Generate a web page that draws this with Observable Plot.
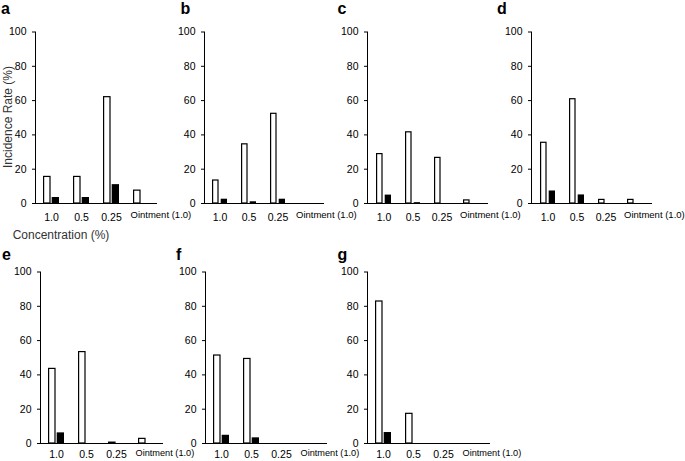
<!DOCTYPE html>
<html><head><meta charset="utf-8">
<script src="https://cdn.jsdelivr.net/npm/d3@7"></script>
<script src="https://cdn.jsdelivr.net/npm/@observablehq/plot@0.6"></script>
<style>
body{margin:0;background:#fff;}
#chart{position:relative;width:685px;height:461px;font-family:"Liberation Sans",Arial,sans-serif;overflow:hidden;}
.panel{position:absolute;}
.letter{position:absolute;font-weight:bold;font-size:16px;line-height:16px;color:#000;}
.title{position:absolute;font-size:12px;line-height:12px;color:#333;white-space:nowrap;}
</style></head><body><div id="chart"></div>
<script>
const categories = ["1.0", "0.5", "0.25", "Ointment (1.0)"];
const yTicks = [0, 20, 40, 60, 80, 100];
const panelNames = ["a", "b", "c", "d", "e", "f", "g"];
const yTitle = "Incidence Rate (%)";
const xTitle = "Concentration (%)";

// open (white) bars and filled (black) bars, per panel, in category order
const openA = [15.5, 15.5, 62, 7.5];
const filledA = [3.5, 3.5, 11, 0];
const openB = [13.4, 34.5, 52.3, 0];
const filledB = [2.5, 1, 2.5, 0];
const openC = [28.8, 41.5, 26.6, 1.8];
const filledC = [4.9, 0.5, 0, 0];
const openD = [35.4, 60.8, 2.1, 2.1];
const filledD = [7.3, 5, 0, 0];
const openE = [43.5, 53.3, 0.5, 2.7];
const filledE = [6.2, 0, 0, 0];
const openF = [51.3, 49.3, 0, 0];
const filledF = [4.8, 3.3, 0, 0];
const openG = [82.8, 17.3, 0, 0];
const filledG = [6.4, 0, 0, 0];

const openSeries = [openA, openB, openC, openD, openE, openF, openG];
const filledSeries = [filledA, filledB, filledC, filledD, filledE, filledF, filledG];

// layout
const axisLeft = [35, 204, 367, 531, 40, 205, 367];
const plotWidths = [121, 119, 120, 120, 122, 121, 122];
const rowTop = [0, 0, 0, 0, 240, 240, 240];
const letterPos = [[1, 0.5], [180.5, 0.5], [337.5, 0.5], [497, 0.5], [2, 247], [176, 247], [337.5, 247]];

const chart = document.getElementById("chart");
const ML = 35, W = 170, H = 240, MT = 31.5, PH = 171.5;

panelNames.forEach((name, i) => {
  const bottomRow = rowTop[i] > 0;
  const rows = categories.map((c, k) => ({conc: c, open: openSeries[i][k], filled: filledSeries[i][k]}));
  const svg = Plot.plot({
    width: W, height: H,
    marginLeft: ML, marginRight: W - ML - plotWidths[i],
    marginTop: MT, marginBottom: H - MT - PH,
    style: {overflow: "visible", fontFamily: "'Liberation Sans', Arial, sans-serif", fontSize: "10.5px", color: "#000", background: "transparent"},
    x: {type: "band", domain: categories, paddingInner: 0.467, paddingOuter: 0.25, align: 0.5,
        line: true, tickSize: 0, tickPadding: bottomRow ? 7 : 10, tickFormat: d => d === categories[3] ? "" : d, label: null},
    y: {domain: [0, 100], ticks: yTicks, tickSize: 3, tickPadding: 6, line: true, label: null},
    marks: [
      Plot.barY(rows.filter(d => d.open > 0), {x: "conc", y: "open", fill: "white", stroke: "black", strokeWidth: 1.2, insetLeft: 0.6, insetRight: 9}),
      Plot.barY(rows.filter(d => d.filled > 0), {x: "conc", y: "filled", fill: "black", insetLeft: 8.7, insetRight: 0}),
      Plot.text([categories[3]], {x: d => d, frameAnchor: "bottom", dy: bottomRow ? 12.6 : 14.5, dx: -11, textAnchor: "start", fontSize: bottomRow ? 9.2 : 9.5, fill: "#000"})
    ]
  });
  svg.classList.add("panel");
  svg.style.left = (axisLeft[i] - ML) + "px";
  svg.style.top = rowTop[i] + "px";
  chart.appendChild(svg);

  const lt = document.createElement("div");
  lt.className = "letter";
  lt.textContent = name;
  lt.style.left = letterPos[i][0] + "px";
  lt.style.top = letterPos[i][1] + "px";
  chart.appendChild(lt);
});

const yt = document.createElement("div");
yt.className = "title";
yt.textContent = yTitle;
yt.style.left = "7.5px";
yt.style.top = "117px";
yt.style.transform = "translate(-50%,-50%) rotate(-90deg)";
chart.appendChild(yt);

const xt = document.createElement("div");
xt.className = "title";
xt.textContent = xTitle;
xt.style.left = "61px";
xt.style.top = "228.5px";
xt.style.transform = "translateX(-50%)";
chart.appendChild(xt);
</script>
</body></html>
